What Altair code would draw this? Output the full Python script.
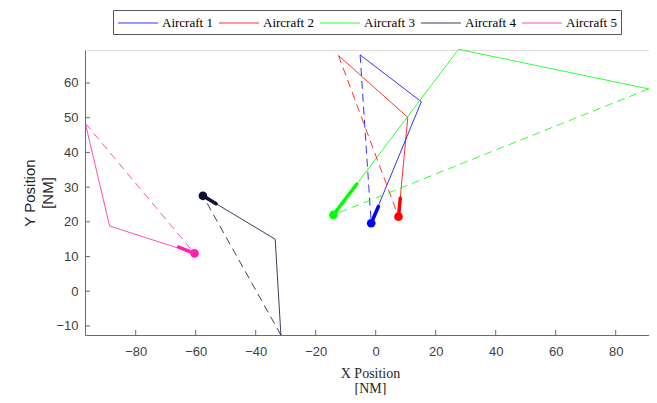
import altair as alt
import pandas as pd

names = ["Aircraft 1", "Aircraft 2", "Aircraft 3", "Aircraft 4", "Aircraft 5"]
colors = ["#0000FF", "#FF0000", "#00FF00", "#0D0D3A", "#FF20B0"]

start_x = [-1.5, 7.6, -14.1, -57.6, -60.4]
start_y = [19.6, 21.5, 22.0, 27.5, 10.9]
wp1_x = [15.2, 10.7, 27.6, -33.5, -88.7]
wp1_y = [54.6, 50.1, 69.7, 15.0, 18.8]
wp2_x = [-5.2, -12.4, 91.0, -31.6, -96.8]
wp2_y = [68.1, 67.9, 58.3, -12.6, 48.4]
head_x = [0.9, 8.2, -6.3, -53.2, -65.7]
head_y = [24.4, 26.8, 30.9, 25.2, 12.7]

x_ticks = [-80, -60, -40, -20, 0, 20, 40, 60, 80]
y_ticks = [-10, 0, 10, 20, 30, 40, 50, 60]
x_domain = [-96.9, 91.1]
y_domain = [-12.6, 69.5]

W, H = 564, 285
PAD_L, PAD_T, PAD_R, PAD_B = 77, 42, 0, 60

solid_rows, dash_rows, head_rows, dot_rows = [], [], [], []
for i, n in enumerate(names):
    pts = [(start_x[i], start_y[i]), (wp1_x[i], wp1_y[i]), (wp2_x[i], wp2_y[i])]
    for k, (x, y) in enumerate(pts):
        solid_rows.append({"ac": n, "x": x, "y": y, "o": k})
    for k, (x, y) in enumerate([(wp2_x[i], wp2_y[i]), (start_x[i], start_y[i])]):
        dash_rows.append({"ac": n, "x": x, "y": y, "o": k})
    for k, (x, y) in enumerate([(start_x[i], start_y[i]), (head_x[i], head_y[i])]):
        head_rows.append({"ac": n, "x": x, "y": y, "o": k})
    dot_rows.append({"ac": n, "x": start_x[i], "y": start_y[i]})

solid_df = pd.DataFrame(solid_rows)
dash_df = pd.DataFrame(dash_rows)
head_df = pd.DataFrame(head_rows)
dot_df = pd.DataFrame(dot_rows)

xs = alt.Scale(domain=x_domain, nice=False, zero=False)
ys = alt.Scale(domain=y_domain, nice=False, zero=False)
cs = alt.Scale(domain=names, range=colors)

x_axis = alt.Axis(values=x_ticks, title=["X Position", "[NM]"], tickSize=0,
                  labelPadding=10, grid=False, domainColor="#6a6a6a",
                  labelFont="Liberation Sans", labelFontSize=13, labelColor="#404040",
                  titleFont="Liberation Serif", titleFontSize=14, titleFontWeight="normal",
                  titleColor="#262626", titleLineHeight=15, titleBaseline="middle",
                  titleX=W / 2 + 3, titleY=38)
y_axis = alt.Axis(values=y_ticks, title=["Y Position", "[NM]"], tickSize=0,
                  labelPadding=7, grid=False, domainColor="#6a6a6a",
                  labelFont="Liberation Sans", labelFontSize=13, labelColor="#404040",
                  titleFont="Liberation Sans", titleFontSize=15, titleFontWeight="normal",
                  titleColor="#262626", titleLineHeight=18, titleBaseline="middle",
                  titleAngle=-90, titleX=-56, titleY=H / 2)

legend = alt.Legend(title=None, orient="none", legendX=28, legendY=-40,
                    direction="horizontal", columns=5, symbolType="M-1,0L4,0",
                    symbolSize=256, symbolStrokeWidth=1.2, symbolFillColor="transparent",
                    labelFont="Liberation Serif",
                    labelFontSize=13, labelColor="#000000", labelOffset=27,
                    columnPadding=3, padding=4, strokeColor="#555555",
                    fillColor="white")

solid = alt.Chart(solid_df).mark_line(strokeWidth=1, opacity=0.8).encode(
    x=alt.X("x:Q", scale=xs, axis=x_axis),
    y=alt.Y("y:Q", scale=ys, axis=y_axis),
    color=alt.Color("ac:N", scale=cs, legend=legend),
    detail="ac:N",
    order="o:Q",
)
dashed = alt.Chart(dash_df).mark_line(strokeWidth=1, opacity=0.8, strokeDash=[8, 5]).encode(
    x=alt.X("x:Q", scale=xs),
    y=alt.Y("y:Q", scale=ys),
    color=alt.Color("ac:N", scale=cs, legend=None),
    detail="ac:N",
    order="o:Q",
)
heading = alt.Chart(head_df).mark_line(strokeWidth=3.5, strokeCap="round").encode(
    x=alt.X("x:Q", scale=xs),
    y=alt.Y("y:Q", scale=ys),
    color=alt.Color("ac:N", scale=cs, legend=None),
    detail="ac:N",
    order="o:Q",
)
dots = alt.Chart(dot_df).mark_point(filled=True, size=75, opacity=1).encode(
    x=alt.X("x:Q", scale=xs),
    y=alt.Y("y:Q", scale=ys),
    color=alt.Color("ac:N", scale=cs, legend=None),
)

xt_df = pd.DataFrame({"t": x_ticks})
yt_df = pd.DataFrame({"t": y_ticks})
xticks = alt.Chart(xt_df).mark_rule(color="#6a6a6a", strokeWidth=1).encode(
    x=alt.X("t:Q", scale=xs), y=alt.value(H - 5), y2=alt.value(H))
yticks = alt.Chart(yt_df).mark_rule(color="#6a6a6a", strokeWidth=1).encode(
    y=alt.Y("t:Q", scale=ys), x=alt.value(0), x2=alt.value(5))

chart = alt.layer(xticks, yticks, solid, dashed, heading, dots).properties(
    width=W, height=H,
    autosize=alt.AutoSizeParams(type="none"),
    padding={"top": PAD_T, "left": PAD_L, "right": PAD_R, "bottom": PAD_B},
).configure_view(stroke=None).configure(background="white")

chart.save("out.html", embed_options={"renderer": "svg", "actions": False})
